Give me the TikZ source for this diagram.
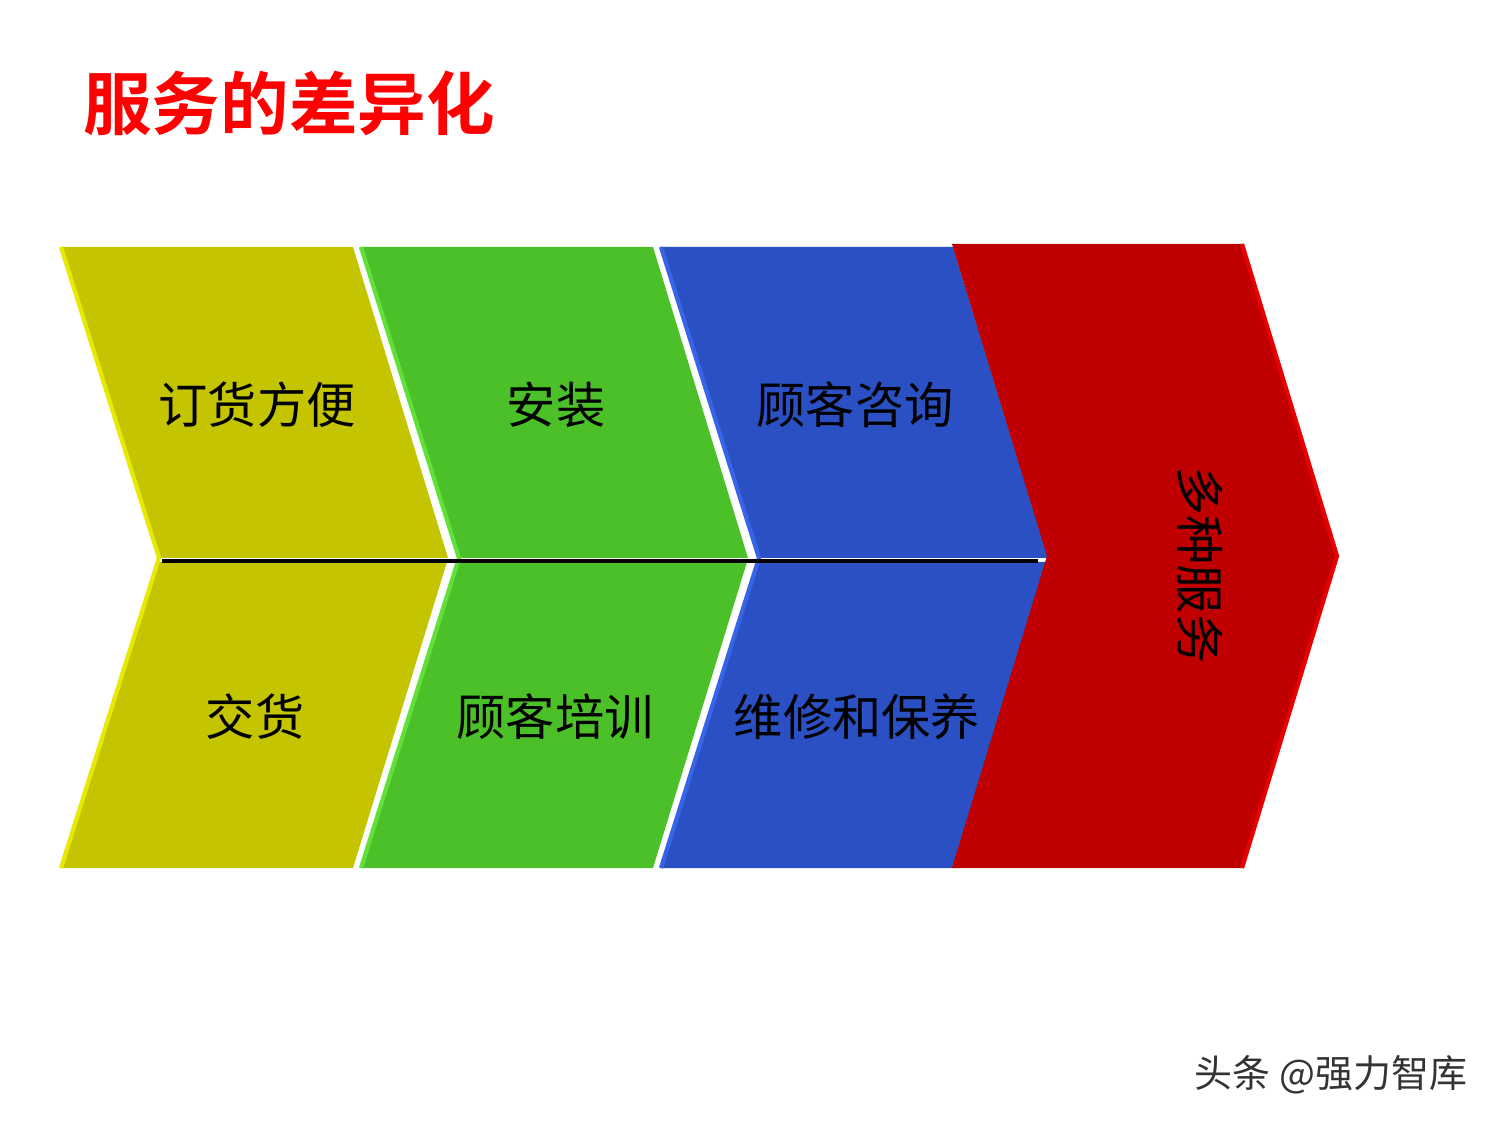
\documentclass[tikz,border=0pt]{standalone}
\usepackage{fontspec}
\newfontfamily\cjk[BoldFont={Noto Sans CJK SC Bold}]{Noto Sans CJK SC}
\definecolor{yel}{RGB}{196,196,0}
\definecolor{yelEdge}{RGB}{232,232,0}
\definecolor{grn}{RGB}{76,192,40}
\definecolor{grnEdge}{RGB}{96,224,56}
\definecolor{blu}{RGB}{42,80,196}
\definecolor{bluEdge}{RGB}{56,100,232}
\definecolor{rd}{RGB}{192,0,0}
\definecolor{rdEdge}{RGB}{232,0,0}

\begin{document}
\begin{tikzpicture}[x=0.01cm,y=-0.01cm]

\tikzstyle{lbl} = [text=black, font=\cjk\fontsize{14}{16}\selectfont, inner sep=0pt]
\tikzstyle{edge} = [line width=1.2pt]
\useasboundingbox (0,0) rectangle (1500,1125);

% title
\node (title) [text={rgb,255:red,255;green,0;blue,0}, font=\cjk\bfseries\fontsize{19.5}{22}\selectfont, inner sep=0pt] at (289,103) {服务的差异化};

% upper halves
\fill[yel] (60,247) -- (353,247) -- (448,558) -- (158,558) -- cycle;
\fill[grn] (360,247) -- (653,247) -- (748,558) -- (458,558) -- cycle;
\fill[blu] (660,247) -- (953,247) -- (1048,558) -- (758,558) -- cycle;
% lower halves
\fill[yel] (158,562) -- (447,562) -- (353,868) -- (60,868) -- cycle;
\fill[grn] (458,562) -- (747,562) -- (653,868) -- (360,868) -- cycle;
\fill[blu] (758,562) -- (1047,562) -- (953,868) -- (660,868) -- cycle;
% red chevron
\fill[rd] (952,244) -- (1243,244) -- (1338,556) -- (1243,868) -- (952,868) -- (1047,556) -- cycle;

% lighter edges
\draw[edge, yelEdge] (61,247) -- (159,558) -- (61,868);
\draw[edge, grnEdge] (361,247) -- (459,558) -- (361,868);
\draw[edge, bluEdge] (661,247) -- (759,558) -- (661,868);
\draw[edge, rdEdge] (1242,244) -- (1337,556) -- (1242,868);

% divider
\coordinate (divL) at (162,561);
\coordinate (divR) at (1038,561);
\draw[line width=0.9pt, black] (divL) -- (divR);

% labels
\node (order) [lbl] at (257,405) {订货方便};
\node (setup) [lbl] at (556,405) {安装};
\node (advice) [lbl] at (855,405) {顾客咨询};
\node (deliver) [lbl] at (255,717) {交货};
\node (train) [lbl] at (555,717) {顾客培训};
\node (repair) [lbl] at (857,717) {维修和保养};
\node (multi) [lbl, rotate=-90] at (1200,565) {多种服务};

% watermark
\node (mark) [text=black!80, font=\cjk\fontsize{10.8}{12}\selectfont, inner sep=0pt] at (1331,1075) {头条 @强力智库};

\end{tikzpicture}
\end{document}
